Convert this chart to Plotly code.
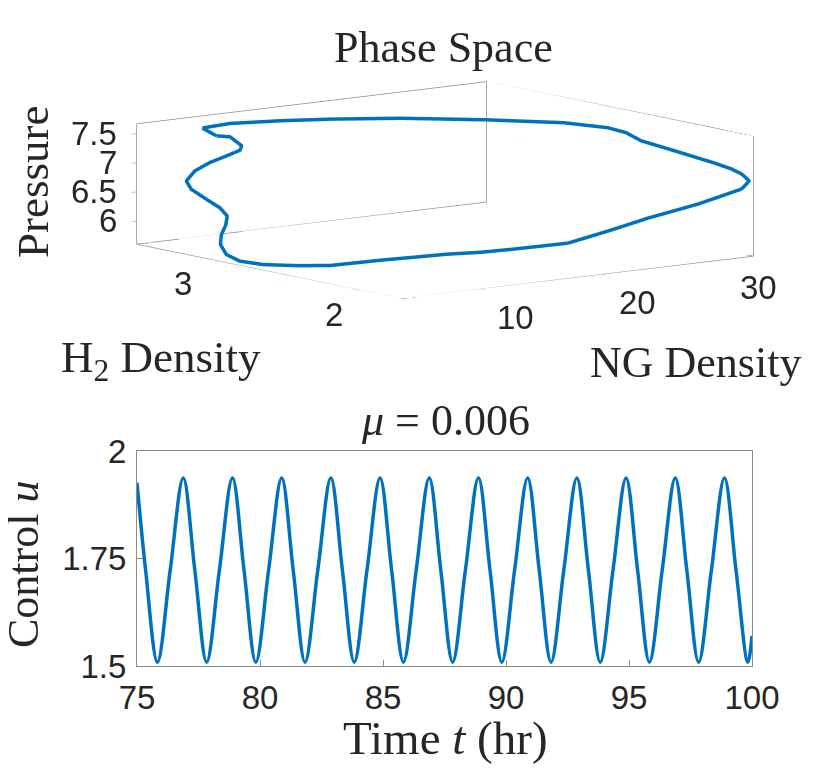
import plotly.graph_objects as go

ng_density = [8.60, 9.99, 12.13, 15.13, 19.00, 23.60, 26.75, 28.43, 28.60, 28.74,
              29.29, 30.07, 30.82, 31.26, 31.78, 32.18, 32.38, 31.52, 30.30, 29.06,
              27.85, 26.66, 25.16, 24.15, 23.34, 21.98, 20.42, 18.57, 16.49, 14.12,
              11.84, 8.14, 6.26, 4.81, 3.98, 3.74, 3.69, 3.77, 4.35, 4.70,
              4.76, 4.52, 4.15, 4.18, 5.33, 7.01, 8.83, 10.59, 11.40, 11.09,
              10.19, 8.60]
h2_density = [3.435, 3.364, 3.205, 3.112, 2.957, 2.762, 2.497, 2.337, 2.231, 2.143,
              2.054, 1.983, 1.912, 1.859, 1.789, 1.753, 1.718, 1.700, 1.735, 1.789,
              1.859, 1.930, 2.036, 2.107, 2.196, 2.266, 2.320, 2.390, 2.443, 2.479,
              2.514, 2.550, 2.620, 2.727, 2.815, 2.886, 2.921, 2.921, 2.939, 2.957,
              3.010, 3.081, 3.151, 3.187, 3.222, 3.258, 3.293, 3.346, 3.399, 3.452,
              3.470, 3.435]
pressure = [7.490, 7.571, 7.647, 7.649, 7.649, 7.610, 7.620, 7.575, 7.542, 7.446,
            7.376, 7.289, 7.202, 7.150, 7.072, 6.995, 6.888, 6.780, 6.672, 6.538,
            6.409, 6.281, 6.072, 5.939, 5.793, 5.739, 5.699, 5.654, 5.646, 5.633,
            5.621, 5.604, 5.612, 5.610, 5.643, 5.726, 5.882, 6.051, 6.188, 6.327,
            6.438, 6.554, 6.697, 6.821, 6.948, 7.030, 7.080, 7.105, 7.134, 7.268,
            7.297, 7.490]

ng_range = [3.6, 32.5]
h2_range = [1.7, 3.47]
p_range = [5.6, 7.67]

ng_ticks = [10, 20, 30]
h2_ticks = [2, 3]
p_ticks = [6, 6.5, 7, 7.5]
p_ticktext = ["6", "6.5", "7", "7.5"]

# ---- control signal ----
time_hr = [75.0, 75.35, 75.83, 76.35, 76.88, 77.35, 77.83, 78.35, 78.88, 79.35,
           79.83, 80.35, 80.88, 81.35, 81.83, 82.35, 82.88, 83.35, 83.83, 84.35,
           84.88, 85.35, 85.83, 86.35, 86.88, 87.35, 87.83, 88.35, 88.88, 89.35,
           89.83, 90.35, 90.88, 91.35, 91.83, 92.35, 92.88, 93.35, 93.83, 94.35,
           94.88, 95.35, 95.83, 96.35, 96.88, 97.35, 97.83, 98.35, 98.88, 99.35,
           99.83, 100.0]
control_u = [1.926, 1.723, 1.509, 1.723, 1.937, 1.723, 1.509, 1.723, 1.937, 1.723,
             1.509, 1.723, 1.937, 1.723, 1.509, 1.723, 1.937, 1.723, 1.509, 1.723,
             1.937, 1.723, 1.509, 1.723, 1.937, 1.723, 1.509, 1.723, 1.937, 1.723,
             1.509, 1.723, 1.937, 1.723, 1.509, 1.723, 1.937, 1.723, 1.509, 1.723,
             1.937, 1.723, 1.509, 1.723, 1.937, 1.723, 1.509, 1.723, 1.937, 1.723,
             1.509, 1.570]

blue = "#0072BD"
axis_gray = "#8c8c8c"
text_col = "#262626"
serif = "Liberation Serif, DejaVu Serif, serif"
sans = "Liberation Sans, Arial, sans-serif"

W, H = 830, 779
OFF = 8  # page body margin


def px(x):
    return (x - OFF) / W


def py(y):
    return 1 - (y - OFF) / H


fig = go.Figure()

# MATLAB style box (back planes + floor), built from the axis limits
x0, x1 = ng_range
y0, y1 = h2_range
z0, z1 = p_range
edges = [
    [(x0, y0, z0), (x1, y0, z0)],
    [(x0, y0, z0), (x0, y1, z0)],
    [(x0, y1, z0), (x1, y1, z0)],
    [(x1, y0, z0), (x1, y1, z0)],
    [(x0, y1, z0), (x0, y1, z1)],
    [(x1, y1, z0), (x1, y1, z1)],
    [(x1, y0, z0), (x1, y0, z1)],
    [(x0, y1, z1), (x1, y1, z1)],
    [(x1, y1, z1), (x1, y0, z1)],
]
bx, by, bz = [], [], []
for a, b in edges:
    bx += [a[0], b[0], None]
    by += [a[1], b[1], None]
    bz += [a[2], b[2], None]
fig.add_trace(go.Scatter3d(x=bx, y=by, z=bz, mode="lines",
                           line=dict(color=axis_gray, width=1.5),
                           hoverinfo="skip", showlegend=False))

fig.add_trace(go.Scatter3d(x=ng_density, y=h2_density, z=pressure, mode="lines",
                           line=dict(color=blue, width=7),
                           showlegend=False))

# control vs time
fig.add_trace(go.Scatter(x=time_hr, y=control_u, mode="lines",
                         line=dict(color=blue, width=3.5, shape="spline", smoothing=1.0),
                         showlegend=False))

# 3D tick labels as scene annotations (MATLAB places them away from the edges)
tick_font = dict(family=sans, size=33, color=text_col)
scene_notes = []
for v in ng_ticks:
    scene_notes.append(dict(x=v, y=y0, z=z0, text=str(v), showarrow=False,
                            xanchor="center", yanchor="middle",
                            xshift=35, yshift=-28, font=tick_font))
for v in h2_ticks:
    scene_notes.append(dict(x=x0, y=v, z=z0, text=str(v), showarrow=False,
                            xanchor="center", yanchor="middle",
                            xshift=-24, yshift=-25, font=tick_font))
for v, t in zip(p_ticks, p_ticktext):
    scene_notes.append(dict(x=x0, y=y1, z=v, text=t, showarrow=False,
                            xanchor="right", yanchor="middle",
                            xshift=-18, yshift=0, font=tick_font))

scene_axis = dict(showbackground=False, showgrid=False, zeroline=False,
                  showspikes=False, showline=False, ticks="outside", ticklen=6,
                  tickcolor=axis_gray, title=dict(text=""), showticklabels=False)

eye_dist = 5.0
box_scale = 2.51

fig.update_layout(
    width=W, height=H, autosize=False,
    margin=dict(l=0, r=0, t=0, b=0, pad=0, autoexpand=False),
    paper_bgcolor="white", plot_bgcolor="white",
    showlegend=False,
    scene=dict(
        domain=dict(x=[px(90), px(800)], y=[py(366), py(14)]),
        xaxis=dict(scene_axis, range=ng_range, tickvals=ng_ticks),
        yaxis=dict(scene_axis, range=h2_range, tickvals=h2_ticks),
        zaxis=dict(scene_axis, range=p_range, tickvals=p_ticks),
        aspectmode="manual",
        aspectratio=dict(x=1.0 * box_scale, y=0.99 * box_scale, z=0.276 * box_scale),
        camera=dict(eye=dict(x=-0.6026 * eye_dist, y=-0.7826 * eye_dist,
                             z=0.1563 * eye_dist),
                    up=dict(x=0, y=0, z=1),
                    center=dict(x=0, y=0, z=0),
                    projection=dict(type="orthographic")),
        annotations=scene_notes,
    ),
    xaxis=dict(domain=[px(137), px(752)], range=[75, 100],
               tickvals=[75, 80, 85, 90, 95, 100], automargin=False,
               showline=True, mirror=True, linecolor=axis_gray, linewidth=1,
               ticks="inside", ticklen=6, tickcolor=axis_gray,
               showgrid=False, zeroline=False, ticklabelstandoff=2,
               tickfont=tick_font),
    yaxis=dict(domain=[py(666), py(451)], range=[1.5, 2],
               tickvals=[1.5, 1.75, 2], ticktext=["1.5", "1.75", "2"], automargin=False,
               showline=True, mirror=True, linecolor=axis_gray, linewidth=1,
               ticks="inside", ticklen=6, tickcolor=axis_gray,
               showgrid=False, zeroline=False, ticklabelstandoff=3,
               tickfont=tick_font),
)

labels = [
    dict(text="Phase Space", x=443, y=47, angle=0, size=44),
    dict(text="Pressure", x=33, y=182, angle=-90, size=45),
    dict(text="H<sub>2</sub> Density", x=161, y=360, angle=0, size=45),
    dict(text="NG Density", x=695, y=363, angle=0, size=44),
    dict(text="<i>μ</i> = 0.006", x=445, y=420, angle=0, size=44),
    dict(text="Control <i>u</i>", x=23, y=565, angle=-90, size=44),
    dict(text="Time <i>t</i> (hr)", x=445, y=738, angle=0, size=47),
]
for lab in labels:
    fig.add_annotation(text=lab["text"], x=px(lab["x"]), y=py(lab["y"]),
                       xref="paper", yref="paper", xanchor="center", yanchor="middle",
                       textangle=lab["angle"], showarrow=False,
                       font=dict(family=serif, size=lab["size"], color=text_col))

fig.write_html("out.html")
